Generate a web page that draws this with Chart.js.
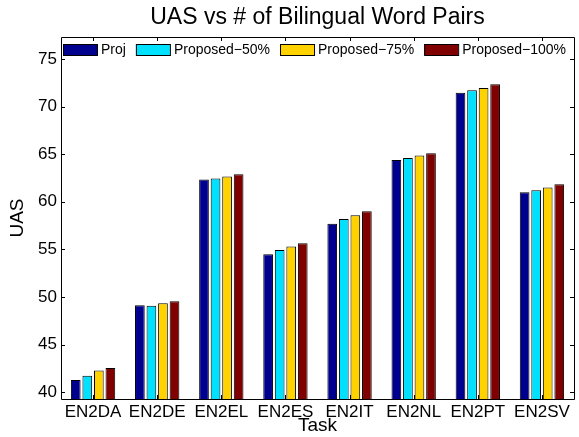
<!DOCTYPE html>
<html>
<head>
<meta charset="utf-8">
<script src="https://cdn.jsdelivr.net/npm/chart.js@4.4.1/dist/chart.umd.min.js"></script>
<style>
html,body{margin:0;padding:0;background:#fff;}
#wrap{width:579px;height:437px;position:relative;}
</style>
</head>
<body>
<div id="wrap"><canvas id="c" width="579" height="437"></canvas></div>
<script>
const categories = ["EN2DA","EN2DE","EN2EL","EN2ES","EN2IT","EN2NL","EN2PT","EN2SV"];
const seriesNames = ["Proj","Proposed\u221250%","Proposed\u221275%","Proposed\u2212100%"];
const proj        = [41.3, 49.15, 62.35, 54.5, 57.7, 64.4, 71.45, 61.0];
const proposed50  = [41.75, 49.1, 62.45, 54.95, 58.2, 64.6, 71.7, 61.2];
const proposed75  = [42.3, 49.35, 62.65, 55.3, 58.6, 64.85, 71.95, 61.5];
const proposed100 = [42.55, 49.55, 62.9, 55.65, 59.0, 65.1, 72.35, 61.85];
const yTicks = [40,45,50,55,60,65,70,75];
const yMin = 39.3, yMax = 77.3;
const colors = ["#00008F","#00E0FF","#FFD200","#800000"];

const FONT = "'Liberation Sans', Arial, Helvetica, sans-serif";

const boxPlugin = {
  id: 'matlabBox',
  afterDatasetsDraw(chart) {
    const ctx = chart.ctx, a = chart.chartArea;
    const xs = chart.scales.x, ys = chart.scales.y;
    ctx.save();
    ctx.strokeStyle = '#000';
    ctx.lineWidth = 1;
    ctx.beginPath();
    ctx.rect(Math.round(a.left)+0.5, Math.round(a.top)+0.5, Math.round(a.right-a.left), Math.round(a.bottom-a.top));
    ctx.stroke();
    const tl = 4;
    ctx.beginPath();
    yTicks.forEach(v => {
      const y = Math.round(ys.getPixelForValue(v)) + 0.5;
      ctx.moveTo(a.left, y); ctx.lineTo(a.left + tl, y);
      ctx.moveTo(a.right, y); ctx.lineTo(a.right - tl, y);
    });
    categories.forEach((c, i) => {
      const x = Math.round(xs.getPixelForValue(i)) + 0.5;
      ctx.moveTo(x, a.top); ctx.lineTo(x, a.top + tl);
      ctx.moveTo(x, a.bottom); ctx.lineTo(x, a.bottom - tl);
    });
    ctx.stroke();
    // legend inside the axes
    ctx.font = "14px " + FONT;
    ctx.textBaseline = 'middle';
    ctx.textAlign = 'left';
    let x = a.left + 2;
    const sy = a.top + 7, sh = 11, sw = 34;
    chart.data.datasets.forEach(ds => {
      ctx.fillStyle = ds.backgroundColor;
      ctx.fillRect(x, sy, sw, sh);
      ctx.strokeStyle = '#000';
      ctx.strokeRect(x + 0.5, sy + 0.5, sw, sh);
      ctx.fillStyle = '#000';
      ctx.fillText(ds.label, x + sw + 4, sy + sh / 2 + 1);
      x += sw + 4 + ctx.measureText(ds.label).width + 10;
    });
    ctx.restore();
  }
};

const seriesValues = [proj, proposed50, proposed75, proposed100];

new Chart(document.getElementById('c'), {
  type: 'bar',
  data: {
    labels: categories,
    datasets: seriesNames.map((n, i) => ({
      label: n,
      data: seriesValues[i],
      backgroundColor: colors[i],
      borderColor: '#000',
      borderWidth: 1,
      borderSkipped: 'bottom',
      categoryPercentage: 0.72,
      barPercentage: 0.84
    }))
  },
  options: {
    responsive: false,
    animation: false,
    devicePixelRatio: 1,
    layout: { padding: { left: 0, right: 5, top: 0, bottom: 0 } },
    plugins: {
      legend: { display: false },
      tooltip: { enabled: false },
      title: {
        display: true,
        fullSize: false,
        text: 'UAS vs # of Bilingual Word Pairs',
        color: '#000',
        font: { family: FONT, size: 23, weight: 'normal', lineHeight: 1.2 },
        padding: { top: 4, bottom: 5.4 }
      }
    },
    scales: {
      x: {
        grid: { display: false, drawTicks: false },
        border: { display: false },
        ticks: { color: '#000', font: { family: FONT, size: 17 }, padding: 3, maxRotation: 0, autoSkip: false },
        title: { display: true, text: 'Task', color: '#000', font: { family: FONT, size: 19 }, padding: { top: 0, bottom: 0 } },
        afterFit(s) { s.height = 38; }
      },
      y: {
        min: yMin, max: yMax,
        grid: { display: false, drawTicks: false },
        border: { display: false },
        ticks: { color: '#000', font: { family: FONT, size: 17 }, padding: 4 },
        afterBuildTicks(s) { s.ticks = yTicks.map(v => ({ value: v })); },
        title: { display: true, text: 'UAS', color: '#000', font: { family: FONT, size: 19 }, padding: { top: 6, bottom: 0 } },
        afterFit(s) { s.width = 61; }
      }
    }
  },
  plugins: [boxPlugin]
});
</script>
</body>
</html>
